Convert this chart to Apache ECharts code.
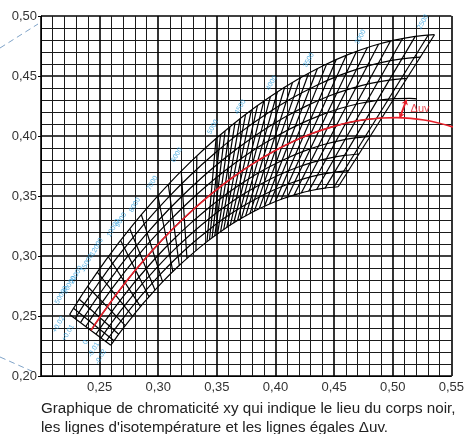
<!DOCTYPE html>
<html>
<head>
<meta charset="utf-8">
<script src="https://cdn.jsdelivr.net/npm/echarts@6/dist/echarts.min.js"></script>
<style>
  html, body { margin: 0; padding: 0; background: #fff; }
  #chart { width: 467px; height: 434px; }
</style>
</head>
<body>
<div id="chart"></div>
<script>
// equal Δuv lines (+0.020 ... -0.020), one point per mesh column
const rowP20 = [[0.2244,0.2512],[0.2277,0.2564],[0.2313,0.2620],[0.2353,0.2681],[0.2397,0.2746],[0.2445,0.2816],[0.2498,0.2890],[0.2554,0.2967],[0.2615,0.3047],[0.2679,0.3130],[0.2856,0.3344],[0.3053,0.3562],[0.3267,0.3776],[0.3493,0.3979],[0.3724,0.4165],[0.3957,0.4330],[0.4187,0.4471],[0.4410,0.4588],[0.4623,0.4680],[0.4825,0.4750],[0.5015,0.4799],[0.5192,0.4830],[0.5356,0.4844]]
const rowP15 = [[0.2291,0.2478],[0.2323,0.2528],[0.2358,0.2582],[0.2397,0.2640],[0.2440,0.2702],[0.2487,0.2769],[0.2538,0.2839],[0.2592,0.2912],[0.2650,0.2988],[0.2712,0.3065],[0.2881,0.3267],[0.3068,0.3470],[0.3270,0.3669],[0.3482,0.3856],[0.3698,0.4028],[0.3916,0.4179],[0.4131,0.4310],[0.4340,0.4417],[0.4540,0.4503],[0.4731,0.4568],[0.4910,0.4614],[0.5078,0.4643],[0.5235,0.4657]]
const rowP10 = [[0.2337,0.2445],[0.2368,0.2493],[0.2403,0.2544],[0.2441,0.2600],[0.2483,0.2660],[0.2528,0.2723],[0.2577,0.2789],[0.2630,0.2858],[0.2685,0.2930],[0.2744,0.3003],[0.2905,0.3191],[0.3083,0.3381],[0.3273,0.3565],[0.3471,0.3738],[0.3674,0.3896],[0.3877,0.4036],[0.4078,0.4156],[0.4274,0.4255],[0.4462,0.4335],[0.4641,0.4395],[0.4811,0.4438],[0.4971,0.4466],[0.5120,0.4480]]
const rowP05 = [[0.2382,0.2412],[0.2412,0.2458],[0.2446,0.2507],[0.2483,0.2561],[0.2524,0.2617],[0.2568,0.2678],[0.2615,0.2740],[0.2666,0.2806],[0.2719,0.2873],[0.2776,0.2942],[0.2929,0.3119],[0.3097,0.3295],[0.3275,0.3465],[0.3461,0.3625],[0.3650,0.3770],[0.3840,0.3899],[0.4028,0.4009],[0.4211,0.4101],[0.4387,0.4174],[0.4556,0.4231],[0.4716,0.4271],[0.4868,0.4297],[0.5010,0.4311],[0.5144,0.4313],[0.5205,0.4309]]
const row00 = [[0.2426,0.2380],[0.2456,0.2424],[0.2489,0.2471],[0.2525,0.2522],[0.2565,0.2576],[0.2607,0.2633],[0.2653,0.2693],[0.2701,0.2755],[0.2752,0.2818],[0.2806,0.2883],[0.2952,0.3048],[0.3110,0.3212],[0.3278,0.3369],[0.3451,0.3516],[0.3628,0.3650],[0.3805,0.3768],[0.3979,0.3869],[0.4150,0.3954],[0.4316,0.4022],[0.4475,0.4074],[0.4626,0.4112],[0.4770,0.4137],[0.4906,0.4150]]
const rowM05 = [[0.2469,0.2349],[0.2499,0.2391],[0.2531,0.2436],[0.2566,0.2485],[0.2604,0.2536],[0.2645,0.2590],[0.2689,0.2647],[0.2736,0.2705],[0.2785,0.2765],[0.2836,0.2825],[0.2974,0.2979],[0.3123,0.3131],[0.3280,0.3276],[0.3442,0.3411],[0.3606,0.3534],[0.3770,0.3642],[0.3933,0.3735],[0.4093,0.3813],[0.4248,0.3876],[0.4397,0.3925],[0.4540,0.3960],[0.4677,0.3984],[0.4806,0.3997]]
const rowM10 = [[0.2512,0.2318],[0.2541,0.2358],[0.2572,0.2401],[0.2606,0.2448],[0.2643,0.2497],[0.2683,0.2548],[0.2725,0.2601],[0.2770,0.2656],[0.2816,0.2712],[0.2865,0.2769],[0.2996,0.2912],[0.3136,0.3053],[0.3282,0.3186],[0.3433,0.3311],[0.3585,0.3422],[0.3738,0.3522],[0.3889,0.3607],[0.4038,0.3679],[0.4183,0.3737],[0.4323,0.3782],[0.4459,0.3816],[0.4588,0.3838],[0.4712,0.3850]]
const rowM15 = [[0.2554,0.2287],[0.2582,0.2326],[0.2613,0.2367],[0.2646,0.2411],[0.2681,0.2458],[0.2720,0.2506],[0.2760,0.2557],[0.2803,0.2608],[0.2847,0.2661],[0.2894,0.2714],[0.3017,0.2847],[0.3148,0.2977],[0.3284,0.3100],[0.3424,0.3213],[0.3565,0.3316],[0.3707,0.3406],[0.3847,0.3484],[0.3985,0.3550],[0.4121,0.3604],[0.4253,0.3647],[0.4380,0.3678],[0.4503,0.3699],[0.4621,0.3711]]
const rowM20 = [[0.2595,0.2257],[0.2623,0.2294],[0.2652,0.2334],[0.2684,0.2376],[0.2719,0.2420],[0.2756,0.2466],[0.2794,0.2513],[0.2835,0.2562],[0.2877,0.2611],[0.2921,0.2660],[0.3037,0.2784],[0.3160,0.2904],[0.3287,0.3016],[0.3416,0.3120],[0.3546,0.3213],[0.3676,0.3295],[0.3806,0.3367],[0.3935,0.3427],[0.4061,0.3477],[0.4185,0.3516],[0.4306,0.3546],[0.4423,0.3566],[0.4535,0.3577]]

// isotemperature lines: end at Δuv +0.02 (top) and -0.02 (bottom)
const isoTop = [[0.2244,0.2512],[0.2277,0.2564],[0.2326,0.2640],[0.2397,0.2746],[0.2480,0.2865],[0.2574,0.2994],[0.2679,0.3130],[0.2758,0.3225],[0.2856,0.3344],[0.2997,0.3500],[0.3086,0.3595],[0.3196,0.3705],[0.3329,0.3831],[0.3493,0.3979],[0.3531,0.4010],[0.3570,0.4041],[0.3611,0.4074],[0.3654,0.4108],[0.3698,0.4144],[0.3745,0.4180],[0.3794,0.4215],[0.3846,0.4251],[0.3900,0.4290],[0.3957,0.4330],[0.4016,0.4366],[0.4078,0.4404],[0.4144,0.4444],[0.4212,0.4484],[0.4282,0.4521],[0.4357,0.4560],[0.4436,0.4599],[0.4517,0.4634],[0.4603,0.4671],[0.4690,0.4703],[0.4783,0.4736],[0.4879,0.4764],[0.4980,0.4790],[0.5083,0.4811],[0.5192,0.4830],[0.5302,0.4840],[0.5356,0.4844]]
const isoBot = [[0.2595,0.2257],[0.2623,0.2294],[0.2663,0.2348],[0.2719,0.2420],[0.2781,0.2497],[0.2849,0.2578],[0.2921,0.2660],[0.2973,0.2715],[0.3037,0.2784],[0.3125,0.2870],[0.3180,0.2921],[0.3245,0.2979],[0.3322,0.3044],[0.3416,0.3120],[0.3437,0.3135],[0.3459,0.3151],[0.3482,0.3168],[0.3506,0.3185],[0.3532,0.3203],[0.3558,0.3220],[0.3585,0.3238],[0.3614,0.3256],[0.3644,0.3275],[0.3676,0.3295],[0.3709,0.3313],[0.3745,0.3333],[0.3782,0.3353],[0.3820,0.3374],[0.3861,0.3393],[0.3905,0.3413],[0.3950,0.3433],[0.3998,0.3452],[0.4049,0.3472],[0.4102,0.3490],[0.4159,0.3508],[0.4220,0.3525],[0.4283,0.3540],[0.4351,0.3554],[0.4423,0.3566],[0.4497,0.3573],[0.4535,0.3577]]

// blackbody locus (red)
const locus = [[0.2426,0.2380],[0.2456,0.2424],[0.2489,0.2471],[0.2525,0.2522],[0.2565,0.2576],[0.2607,0.2633],[0.2653,0.2693],[0.2701,0.2755],[0.2752,0.2818],[0.2806,0.2883],[0.2952,0.3048],[0.3110,0.3212],[0.3278,0.3369],[0.3451,0.3516],[0.3628,0.3650],[0.3805,0.3768],[0.3979,0.3869],[0.4150,0.3954],[0.4316,0.4022],[0.4475,0.4074],[0.4626,0.4112],[0.4770,0.4137],[0.4906,0.4150],[0.5034,0.4153],[0.5154,0.4147],[0.5267,0.4133],[0.5372,0.4113],[0.5471,0.4088],[0.5564,0.4059]]

// colour temperature labels (K)
const cctText = ['2500','3000','3500','4000','4500','5000','6000','7000','8000','9000','10000','12000','15000','20000','30000','50000']
const cctPos = [[0.5258,0.4950],[0.4725,0.4825],[0.4283,0.4633],[0.3967,0.4442],[0.3700,0.4242],[0.3467,0.4075],[0.3158,0.3842],[0.2950,0.3608],[0.2800,0.3425],[0.2683,0.3300],[0.2617,0.3233],[0.2475,0.3075],[0.2392,0.2942],[0.2300,0.2842],[0.2242,0.2758],[0.2175,0.2675]]

// Δuv labels
const duvText = ['+0.02','+0.01','0','-0.01','-0.02']
const duvPos = [[0.2150,0.2430],[0.2230,0.2360],[0.2380,0.2280],[0.2450,0.2220],[0.2510,0.2160]]

// Δuv arrow and its label
const duvArrow = [[0.5061,0.4152],[0.5117,0.4302]]
const duvLabelPos = [0.5233, 0.4229]

const fmt = v => v.toFixed(2).replace('.', ',')

const rows = [rowP20, rowP15, rowP10, rowP05, row00, rowM05, rowM10, rowM15, rowM20]

const option = {
  animation: false,
  grid: { left: 41, top: 16, width: 420, height: 360 },
  xAxis: {
    type: 'value', min: 0.2, max: 0.55, interval: 0.05,
    axisLine: { show: true, lineStyle: { color: '#000', width: 1 } },
    axisTick: { show: false },
    axisLabel: { fontSize: 13, color: '#333', margin: 5, fontFamily: 'Liberation Sans',
      formatter: v => Math.abs(v - 0.2) < 1e-9 ? '' : fmt(v) },
    splitLine: { show: true, lineStyle: { color: '#000', width: 1.6 } },
    minorTick: { show: false, splitNumber: 5 },
    minorSplitLine: { show: true, lineStyle: { color: '#1a1a1a', width: 1 } }
  },
  yAxis: {
    type: 'value', min: 0.2, max: 0.5, interval: 0.05,
    axisLine: { show: true, lineStyle: { color: '#000', width: 1 } },
    axisTick: { show: true, length: 3, lineStyle: { color: '#000' } },
    axisLabel: { fontSize: 13, color: '#333', margin: 4, fontFamily: 'Liberation Sans', formatter: fmt },
    splitLine: { show: true, lineStyle: { color: '#000', width: 1.6 } },
    minorTick: { show: false, splitNumber: 5 },
    minorSplitLine: { show: true, lineStyle: { color: '#1a1a1a', width: 1 } }
  },
  series: [
    ...rows.map(r => ({
      type: 'line', data: r, smooth: 0.2, showSymbol: false, silent: true,
      lineStyle: { color: '#000', width: 1.2 }, z: 3
    })),
    {
      type: 'lines', coordinateSystem: 'cartesian2d', silent: true,
      data: isoTop.map((p, i) => ({ coords: [p, isoBot[i]] })),
      lineStyle: { color: '#000', width: 1.2, opacity: 1 }, z: 3
    },
    {
      type: 'line', data: locus, smooth: 0.3, showSymbol: false, silent: true,
      lineStyle: { color: '#e8202a', width: 1.6 }, z: 5
    },
    {
      type: 'lines', coordinateSystem: 'cartesian2d', silent: true,
      data: [{ coords: duvArrow }],
      symbol: ['arrow', 'arrow'], symbolSize: 5,
      lineStyle: { color: '#e8202a', width: 2, opacity: 1 }, z: 6
    },
    {
      type: 'scatter', symbolSize: 0, silent: true, z: 6,
      data: [duvLabelPos],
      label: { show: true, position: 'inside', formatter: 'Δuv', color: '#e8202a', fontSize: 11, fontFamily: 'Liberation Sans' }
    },
    {
      type: 'scatter', symbolSize: 0, silent: true, z: 6,
      data: cctPos.map((p, i) => ({ value: p, name: cctText[i] })),
      label: { show: true, position: 'inside', formatter: '{b}', rotate: 60, color: '#2f9fdc', fontSize: 7, fontFamily: 'Liberation Sans' }
    },
    {
      type: 'scatter', symbolSize: 0, silent: true, z: 6,
      data: duvPos.map((p, i) => ({ value: p, name: duvText[i] })),
      label: { show: true, position: 'inside', formatter: '{b}', rotate: 60, color: '#2f9fdc', fontSize: 7, fontFamily: 'Liberation Sans' }
    }
  ],
  graphic: [
    { type: 'line', shape: { x1: 0, y1: 48, x2: 38, y2: 24 }, style: { stroke: '#7fa3c8', lineWidth: 1, lineDash: [6, 4] } },
    { type: 'line', shape: { x1: 0, y1: 357, x2: 36, y2: 373 }, style: { stroke: '#7fa3c8', lineWidth: 1, lineDash: [6, 4] } },
    { type: 'text', left: 41, top: 399, style: { text: 'Graphique de chromaticité xy qui indique le lieu du corps noir,\nles lignes d\'isotempérature et les lignes égales Δuv.', font: '15.2px "Liberation Sans"', fill: '#222', lineHeight: 19 } }
  ]
}

const chart = echarts.init(document.getElementById('chart'))
chart.setOption(option)
</script>
</body>
</html>
